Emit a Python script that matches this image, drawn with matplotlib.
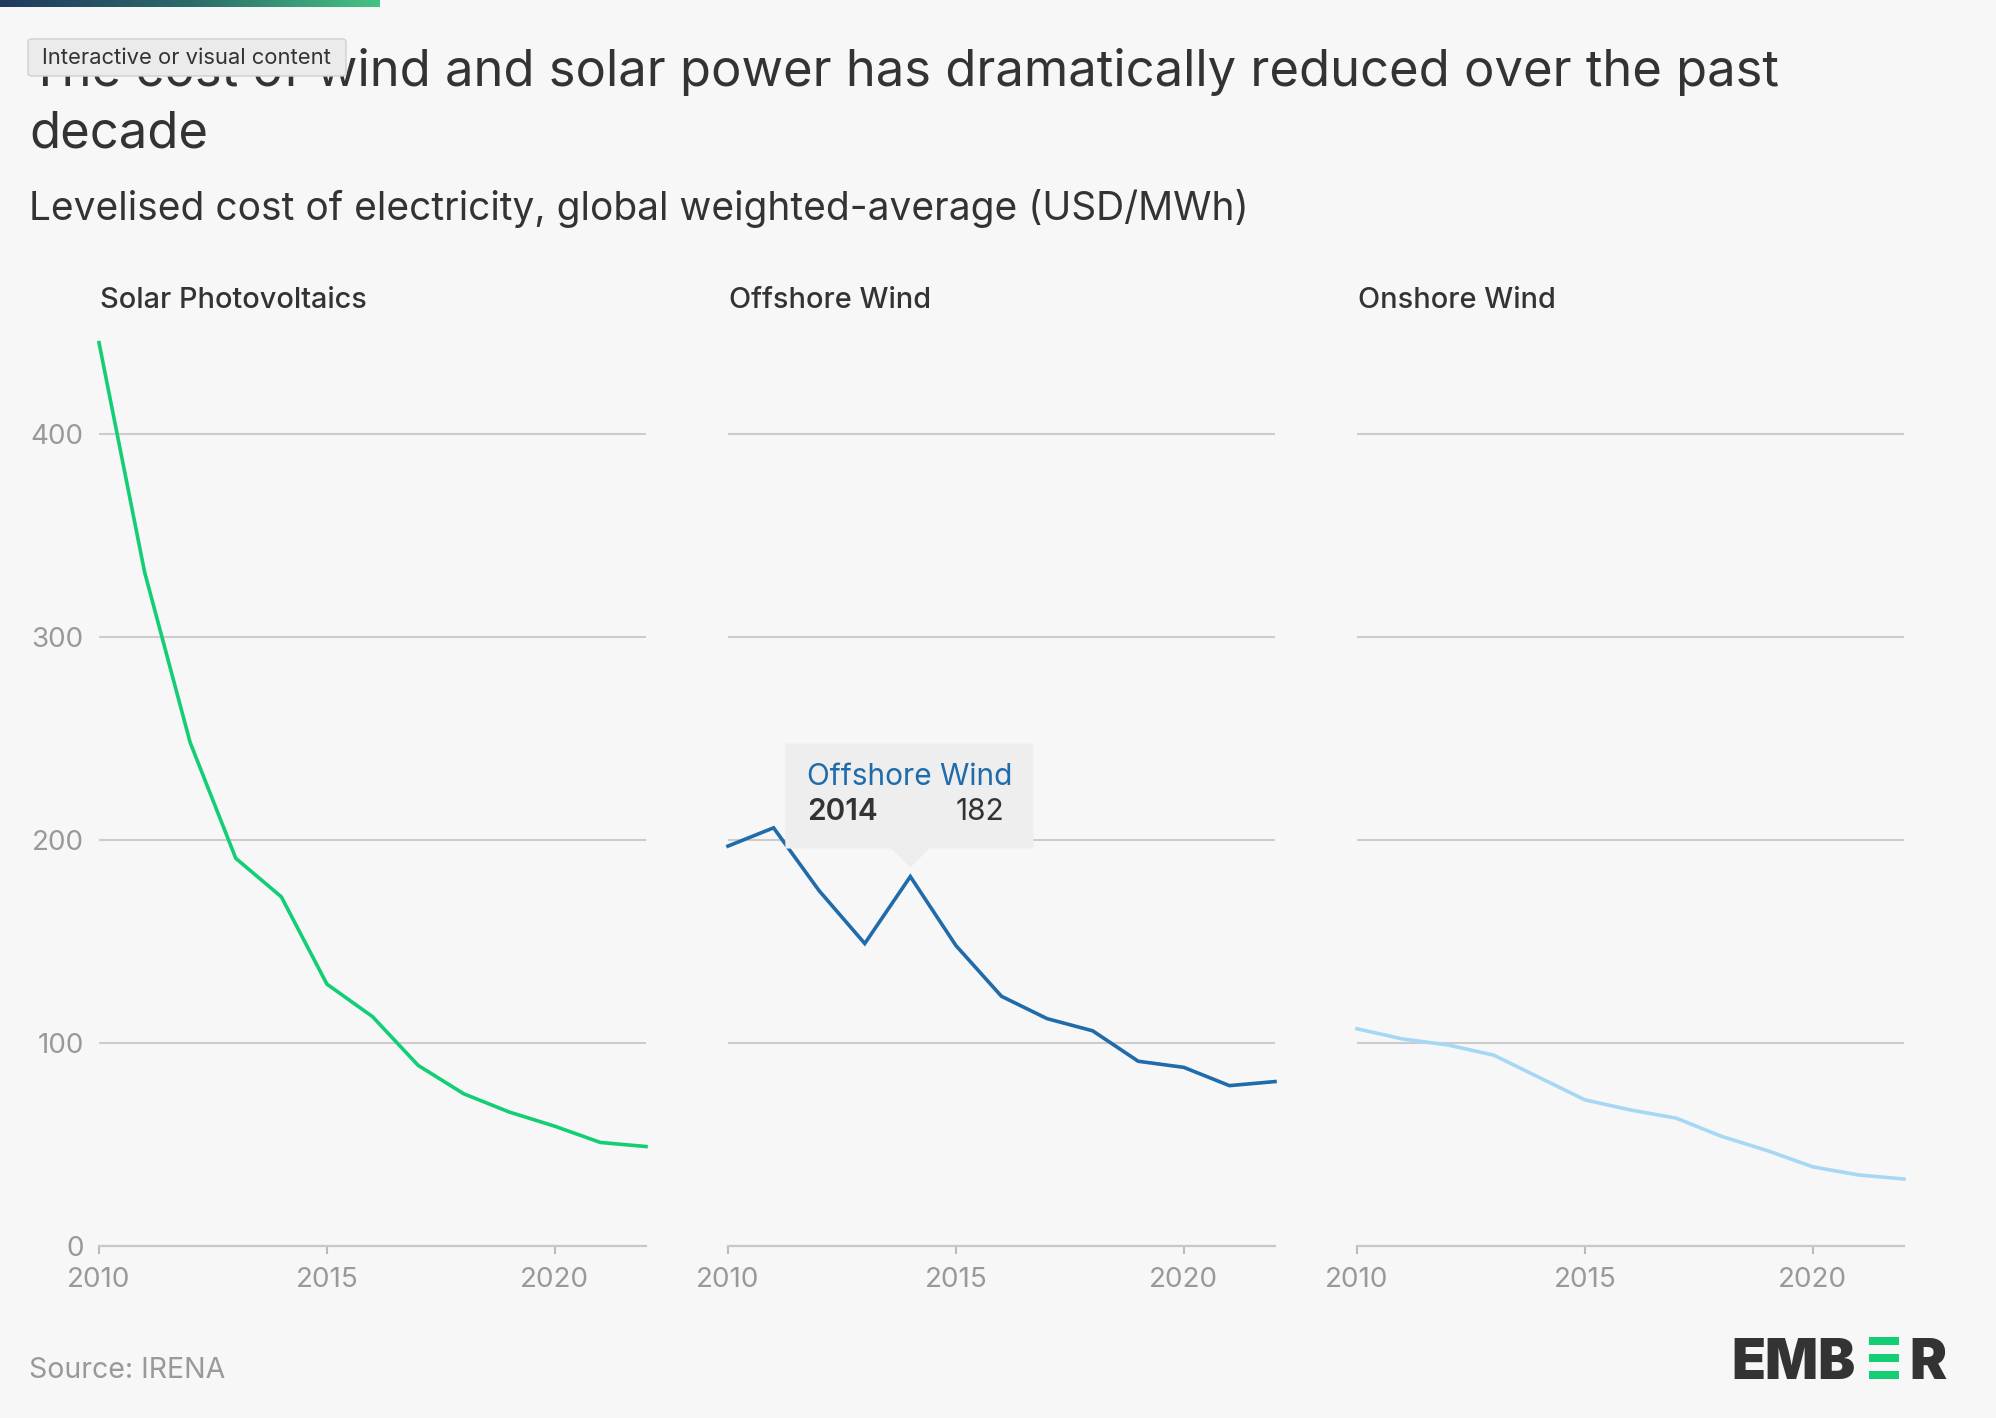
import matplotlib.pyplot as plt
import matplotlib.patches as mpatches
from matplotlib.colors import LinearSegmentedColormap
import numpy as np

years = list(range(2010, 2023))
solar_pv = [445, 332, 248, 191, 172, 129, 113, 89, 75, 66, 59, 51, 49]
offshore_wind = [197, 206, 175, 149, 182, 148, 123, 112, 106, 91, 88, 79, 81]
onshore_wind = [107, 102, 99, 94, 83, 72, 67, 63, 54, 47, 39, 35, 33]

panel_titles = ["Solar Photovoltaics", "Offshore Wind", "Onshore Wind"]
panel_colors = ["#13ce74", "#206baa", "#a6d8f5"]
y_ticks = [0, 100, 200, 300, 400]
x_ticks = [2010, 2015, 2020]

title = "The cost of wind and solar power has dramatically reduced over the past\ndecade"
subtitle = "Levelised cost of electricity, global weighted-average (USD/MWh)"
source = "Source: IRENA"
tooltip_year = 2014

W, H = 1996, 1418
BG = "#f7f7f7"
plt.rcParams["font.family"] = ["Inter", "DejaVu Sans"]


def fx(px):
    return px / W


def fy(py):
    # py measured from the top of the picture
    return 1 - py / H


fig = plt.figure(figsize=(W / 100, H / 100), dpi=100, facecolor=BG)

# gradient strip at the very top
bar = fig.add_axes([0, fy(7), fx(380), 7 / H])
grad = np.linspace(0, 1, 256).reshape(1, -1)
cmap = LinearSegmentedColormap.from_list("ember", ["#1f3a5e", "#2c6a6a", "#45c383"])
bar.imshow(grad, aspect="auto", cmap=cmap)
bar.axis("off")

title_lines = title.split("\n")
fig.text(fx(29), fy(72), title_lines[0], fontsize=36.5, color="#333333",
         va="center", ha="left")
fig.text(fx(29), fy(134), title_lines[1], fontsize=36.5, color="#333333",
         va="center", ha="left")
fig.text(fx(29), fy(208), subtitle, fontsize=28, color="#333333",
         va="center", ha="left")

# overlay label box on top of the title
ov = mpatches.FancyBboxPatch((fx(28), fy(76)), fx(318), 37 / H,
                             boxstyle="round,pad=0,rounding_size=0.002",
                             transform=fig.transFigure, facecolor="#ebebeb",
                             edgecolor="#d0d0d0", linewidth=1, zorder=10)
fig.patches.append(ov)
fig.text(fx(42), fy(58), "Interactive or visual content", fontsize=15.8,
         color="#333333", va="center", ha="left", zorder=11)

series = [solar_pv, offshore_wind, onshore_wind]
lefts = [99, 728, 1357]
axes = []
for i, (vals, left) in enumerate(zip(series, lefts)):
    ax = fig.add_axes([fx(left), fy(1246), 547 / W, 450 * 2.03 / H])
    ax.set_facecolor(BG)
    ax.set_xlim(2010, 2022)
    ax.set_ylim(0, 450)
    ax.plot(years, vals, color=panel_colors[i], lw=2.6, clip_on=False, zorder=3,
            solid_joinstyle="miter")
    ax.set_yticks(y_ticks)
    ax.set_xticks(x_ticks)
    ax.grid(axis="y", color="#cccccc", lw=1.5)
    ax.set_axisbelow(True)
    for s in ["top", "right", "left"]:
        ax.spines[s].set_visible(False)
    ax.spines["bottom"].set_color("#c8c8c8")
    ax.spines["bottom"].set_linewidth(1.6)
    ax.tick_params(axis="x", length=6, width=1.5, color="#bbbbbb",
                   labelsize=20, labelcolor="#999999", pad=9)
    ax.tick_params(axis="y", length=0, labelsize=20, labelcolor="#999999", pad=11)
    if i > 0:
        ax.tick_params(axis="y", labelleft=False)
    fig.text(fx(left + 1), fy(301), panel_titles[i], fontsize=20.8, color="#333333",
             fontweight="medium", va="center", ha="left")
    axes.append(ax)

# tooltip on the offshore panel
ax2 = axes[1]
ti = years.index(tooltip_year)
px, py = ax2.transData.transform((tooltip_year, offshore_wind[ti]))
box_l, box_r = px - 125, px + 123
box_b, box_t = py + 28, py + 133
tip_y = py + 9
pts = [(box_l, box_b), (px - 19, box_b), (px, tip_y), (px + 19, box_b),
       (box_r, box_b), (box_r, box_t), (box_l, box_t)]
tip = mpatches.Polygon(pts, closed=True, transform=None, facecolor="#eeeeee",
                       edgecolor="none", zorder=20)
fig.patches.append(tip)
inv = fig.transFigure.inverted()
tx, ty = inv.transform((box_l + 22, py + 92))
fig.text(tx, ty, panel_titles[1], fontsize=21.5, color="#206baa", va="baseline",
         ha="left", zorder=21)
tx, ty = inv.transform((box_l + 22, py + 57))
fig.text(tx, ty, str(tooltip_year), fontsize=21.5, color="#333333", va="baseline",
         ha="left", fontweight="semibold", zorder=21)
tx, ty = inv.transform((px + 94, py + 57))
fig.text(tx, ty, str(offshore_wind[ti]), fontsize=21.5, color="#333333",
         va="baseline", ha="right", zorder=21)

fig.text(fx(29), fy(1370), source, fontsize=20.5, color="#999999",
         va="center", ha="left")

# EMBER logo
fig.text(fx(1855), fy(1379), "EMB", fontsize=40, color="#333333", fontweight="black",
         va="baseline", ha="right")
fig.text(fx(1909), fy(1379), "R", fontsize=40, color="#333333", fontweight="black",
         va="baseline", ha="left")
for yb in [1337, 1354, 1371]:
    fig.patches.append(mpatches.Rectangle((fx(1869), fy(yb + 8)), 30 / W, 8 / H,
                                          transform=fig.transFigure,
                                          facecolor="#13ce74", edgecolor="none"))

fig.savefig("out.png", dpi=100, facecolor=BG)
